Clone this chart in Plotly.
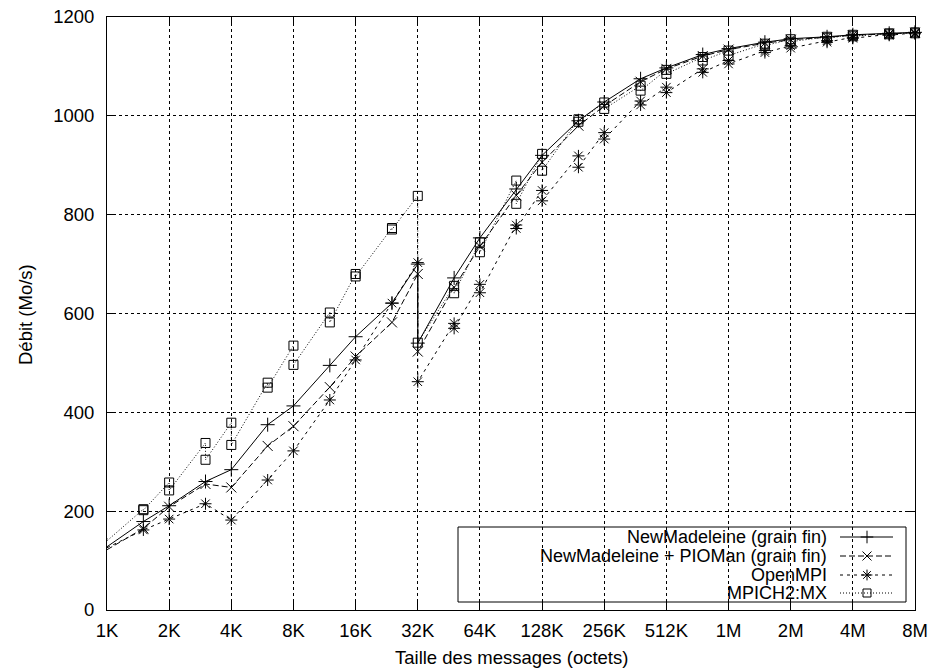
import plotly.graph_objects as go
import math

# ---------------- data (message sizes in KB, throughput in Mo/s) ----------------
tick_kb = [1, 2, 4, 8, 16, 32, 64, 128, 256, 512, 1024, 2048, 4096, 8192]
tick_text = ["1K", "2K", "4K", "8K", "16K", "32K", "64K", "128K", "256K", "512K",
             "1M", "2M", "4M", "8M"]
y_ticks = [0, 200, 400, 600, 800, 1000, 1200]

nmad_kb = [1, 1.5, 2, 3, 4, 6, 8, 12, 16, 24, 32, 32, 48, 64, 96, 128, 192, 256, 384,
           512, 768, 1024, 1536, 2048, 3072, 4096, 6144, 8192]
nmad_val = [128, 179, 211, 260, 284, 375, 413, 495, 553, 621, 700, 540, 672, 753, 852,
            920, 990, 1028, 1075, 1097, 1124, 1136, 1149, 1156, 1160, 1164, 1167, 1169]

pioman_kb = [1, 1.5, 2, 3, 4, 6, 8, 12, 16, 24, 32, 32, 48, 64, 96, 128, 192, 256, 384,
             512, 768, 1024, 1536, 2048, 3072, 4096, 6144, 8192]
pioman_val = [122, 165, 209, 255, 248, 332, 372, 451, 513, 582, 680, 523, 653, 736, 839,
              906, 980, 1020, 1069, 1095, 1121, 1134, 1147, 1154, 1159, 1163, 1166, 1168]

ompi_kb = [1, 1.5, 2, 3, 4, 6, 8, 12, 16, 24, 32, 32, 48, 48, 64, 64, 96, 96, 128, 128,
           192, 192, 256, 256, 384, 384, 512, 512, 768, 768, 1024, 1024, 1536, 1536,
           2048, 2048, 3072, 3072, 4096, 4096, 6144, 6144, 8192, 8192]
ompi_val = [126, 162, 184, 215, 182, 263, 322, 425, 506, 621, 703, 462, 580, 570, 659,
            642, 779, 772, 849, 828, 919, 896, 966, 953, 1030, 1022, 1058, 1047, 1095,
            1088, 1112, 1105, 1132, 1128, 1142, 1137, 1152, 1149, 1159, 1157, 1165,
            1163, 1168, 1166]

mpich_kb = [1, 1, 1.5, 1.5, 2, 2, 3, 3, 4, 4, 6, 6, 8, 8, 12, 12, 16, 16, 24, 24, 32, 32,
            48, 48, 64, 64, 96, 96, 128, 128, 192, 192, 256, 256, 384, 384, 512, 512,
            768, 768, 1024, 1024, 1536, 1536, 2048, 2048, 3072, 3072, 4096, 4096,
            6144, 6144, 8192, 8192]
mpich_val = [145, 140, 204, 202, 258, 242, 338, 304, 379, 334, 460, 450, 535, 496, 602,
             582, 680, 675, 773, 770, 838, 541, 656, 641, 744, 724, 869, 822, 923, 889,
             993, 988, 1027, 1014, 1061, 1051, 1093, 1085, 1119, 1112, 1132, 1122, 1146,
             1142, 1155, 1150, 1160, 1157, 1164, 1161, 1167, 1165, 1169, 1167]

series_names = ["NewMadeleine (grain fin)", "NewMadeleine + PIOMan (grain fin)",
                "OpenMPI", "MPICH2:MX"]

# ---------------- styles ----------------
FONT = "Liberation Sans, Arial, Helvetica, sans-serif"
FS = 18.5
LEG_FS = 18
styles = [
    dict(dash="solid", symbol="cross-thin-open", size=10),
    dict(dash="6px,3px", symbol="x-thin-open", size=10),
    dict(dash="3px,4px", symbol="asterisk-open", size=10),
    dict(dash="1px,2px", symbol="square-open", size=9),
]
data = [(nmad_kb, nmad_val), (pioman_kb, pioman_val), (ompi_kb, ompi_val),
        (mpich_kb, mpich_val)]

fig = go.Figure()
for (kb, val), st, name in zip(data, styles, series_names):
    fig.add_trace(go.Scatter(
        x=[k * 1024 for k in kb], y=val, mode="lines+markers", name=name,
        line=dict(color="black", width=1, dash=st["dash"]),
        marker=dict(symbol=st["symbol"], size=st["size"], color="black",
                    line=dict(color="black", width=1)),
        showlegend=False, cliponaxis=False))

# ---------------- manual gnuplot-like legend ----------------
L, R, T, B = 107, 15, 17, 58
W, H = 930, 668
pw, ph = W - L - R, H - T - B
def px(x):
    return (x - L) / pw
def py(y):
    return (H - B - y) / ph

rows_y = [537, 556, 575, 593]
text_right = 828
samp_x0, samp_x1, samp_mid = 840, 893, 867

shapes = [dict(type="rect", xref="paper", yref="paper", x0=px(458), x1=px(906),
               y0=py(602), y1=py(527), line=dict(color="black", width=1),
               fillcolor="white", layer="between")]
annotations = []
for ry, st, name in zip(rows_y, styles, series_names):
    shapes.append(dict(type="line", xref="paper", yref="paper", x0=px(samp_x0),
                       x1=px(samp_x1), y0=py(ry), y1=py(ry), layer="above",
                       line=dict(color="black", width=1, dash=st["dash"])))
    annotations.append(dict(xref="paper", yref="paper", x=px(text_right), y=py(ry),
                            xanchor="right", yanchor="middle", text=name,
                            showarrow=False, borderpad=0,
                            font=dict(family=FONT, size=LEG_FS, color="black")))
    fig.add_trace(go.Scatter(
        x=[px(samp_mid)], y=[py(ry)], xaxis="x2", yaxis="y2", mode="markers",
        marker=dict(symbol=st["symbol"], size=st["size"] - 1, color="black",
                    line=dict(color="black", width=1)),
        showlegend=False, hoverinfo="skip", cliponaxis=False))

# axis titles
annotations.append(dict(xref="paper", yref="paper", x=0.5, y=py(657),
                        xanchor="center", yanchor="middle",
                        text="Taille des messages (octets)", showarrow=False,
                        font=dict(family=FONT, size=FS, color="black")))
annotations.append(dict(xref="paper", yref="paper", x=px(25), y=py(315),
                        xanchor="center", yanchor="middle", textangle=-90,
                        text="Débit (Mo/s)", showarrow=False,
                        font=dict(family=FONT, size=FS, color="black")))

fig.update_layout(
    width=W, height=H, margin=dict(l=L, r=R, t=T, b=B, autoexpand=False),
    paper_bgcolor="white", plot_bgcolor="white",
    font=dict(family=FONT, size=FS, color="black"),
    xaxis=dict(type="log", range=[math.log10(1024), math.log10(8192 * 1024)],
               tickvals=[k * 1024 for k in tick_kb], ticktext=tick_text,
               ticks="inside", ticklen=8, tickcolor="black", mirror="ticks",
               showline=True, linecolor="black", linewidth=1, automargin=False,
               showgrid=True, gridcolor="black", griddash="dot", gridwidth=1,
               zeroline=False, ticklabelstandoff=4),
    yaxis=dict(range=[0, 1200], tickvals=y_ticks, automargin=False,
               ticks="inside", ticklen=8, tickcolor="black", mirror="ticks",
               showline=True, linecolor="black", linewidth=1,
               showgrid=True, gridcolor="black", griddash="dot", gridwidth=1,
               zeroline=False, ticklabelstandoff=8),
    xaxis2=dict(range=[0, 1], overlaying="x", visible=False, fixedrange=True),
    yaxis2=dict(range=[0, 1], overlaying="y", visible=False, fixedrange=True),
    shapes=shapes, annotations=annotations,
)

fig.write_html("out.html", config={"displayModeBar": False},
               post_script="document.body.style.margin='0px';"
                           "document.body.style.overflow='hidden';")
